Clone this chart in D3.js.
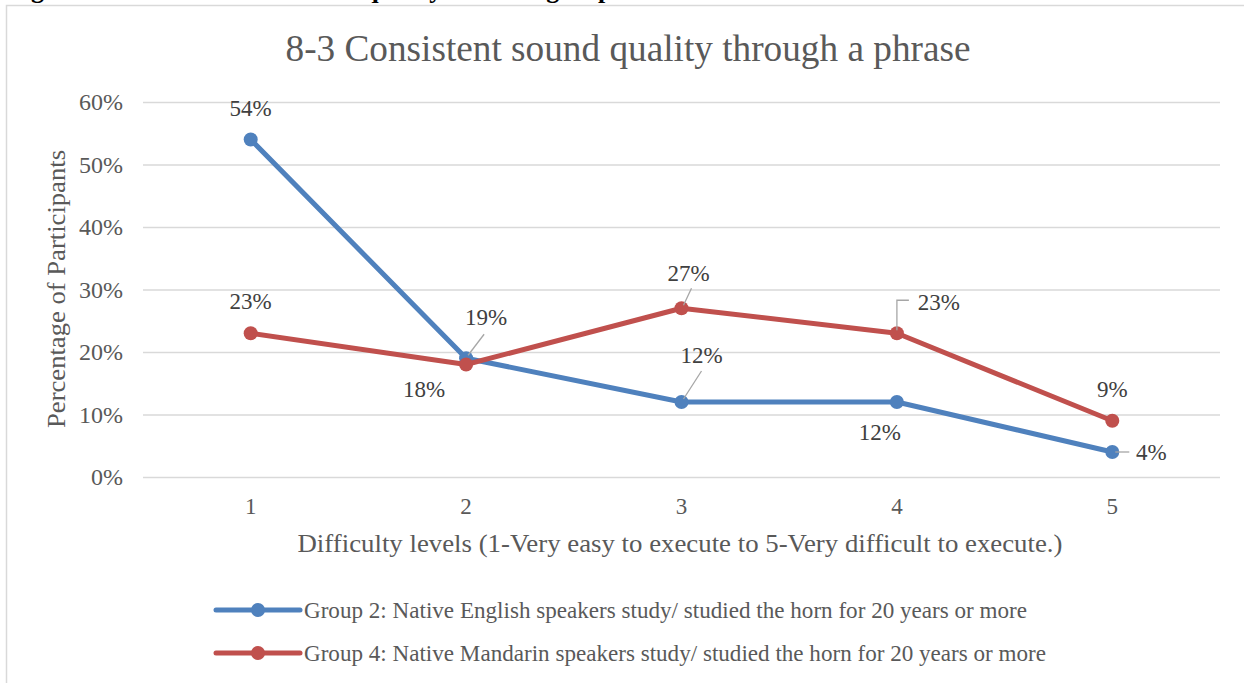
<!DOCTYPE html>
<html>
<head>
<meta charset="utf-8">
<script src="https://cdn.jsdelivr.net/npm/d3@7"></script>
<style>
  html, body { margin: 0; padding: 0; background: #fff; }
  svg { display: block; }
</style>
</head>
<body>
<svg id="chart" width="1244" height="683"></svg>
<script>
// ---- data ----
const categories = ["1", "2", "3", "4", "5"];
const group2Values = [0.54, 0.19, 0.12, 0.12, 0.04];
const group4Values = [0.23, 0.18, 0.27, 0.23, 0.09];
const yTickValues = [0, 0.1, 0.2, 0.3, 0.4, 0.5, 0.6];
const seriesNames = [
  "Group 2: Native English speakers study/ studied the horn for 20 years or more",
  "Group 4: Native Mandarin speakers study/ studied the horn for 20 years or more"
];
const chartTitle = "8-3 Consistent sound quality through a phrase";
const xAxisTitle = "Difficulty levels (1-Very easy to execute to 5-Very difficult to execute.)";
const yAxisTitle = "Percentage of Participants";
const captionText = "Figure 48. 8-3 Consistent sound quality between groups";

// ---- styling / layout ----
const W = 1244, H = 683;
const FONT = "'Liberation Serif', 'Times New Roman', serif";
const colors = ["#4f81bd", "#c0504d"];
const plot = { left: 143, right: 1220, top: 102, bottom: 477 };

// label placement per series/point: label centre offset and optional leader path (px, relative to point)
const labelLayout = [
  [
    { dx: 0, dy: -31 },
    { dx: 20, dy: -41, leader: [[2, -3], [18, -24]] },
    { dx: 20, dy: -47, leader: [[2, -3], [20, -31]] },
    { dx: -17, dy: 30 },
    { dx: 39, dy: 0, leader: [[3, 0], [17, 0]] }
  ],
  [
    { dx: 0, dy: -32 },
    { dx: -42, dy: 25 },
    { dx: 7, dy: -35, leader: [[2, -3], [10, -20]] },
    { dx: 42, dy: -31, leader: [[0, -3], [0, -33], [12, -33]] },
    { dx: 0, dy: -31 }
  ]
];

const svg = d3.select("#chart");

// stretch or squeeze a text run to a given width in px
function fitWidth(sel, width) {
  sel.attr("textLength", width).attr("lengthAdjust", "spacingAndGlyphs");
}

// caption line from the page above, cut by the top edge
svg.append("text")
  .attr("x", 8).attr("y", -2)
  .attr("font-family", FONT).attr("font-weight", "bold").attr("font-size", 26)
  .attr("fill", "#000")
  .text(captionText);

// chart frame (left and top edges visible)
svg.append("path")
  .attr("d", `M6.5,${H} L6.5,5.5 L${W},5.5`)
  .attr("fill", "none").attr("stroke", "#d9d9d9").attr("stroke-width", 1.5);

// scales
const x = d3.scaleBand().domain(categories).range([plot.left, plot.right]).paddingInner(0).paddingOuter(0);
const xc = d => x(d) + x.bandwidth() / 2;
const y = d3.scaleLinear().domain([0, 0.6]).range([plot.bottom, plot.top]);

// value axis with gridlines
const yAxis = d3.axisLeft(y).tickValues(yTickValues).tickSize(-(plot.right - plot.left)).tickFormat(d3.format(".0%"));
const gy = svg.append("g").attr("transform", `translate(${plot.left},0)`).call(yAxis);
gy.select(".domain").remove();
gy.selectAll(".tick line").attr("stroke", "#d9d9d9").attr("stroke-width", 1.5);
gy.selectAll(".tick text")
  .attr("font-family", FONT).attr("font-size", 24).attr("fill", "#595959")
  .attr("x", -20).attr("dy", "0.33em");

// category axis labels
const xAxis = d3.axisBottom(x).tickSize(0).tickPadding(0);
const gx = svg.append("g").attr("transform", `translate(0,${plot.bottom})`).call(xAxis);
gx.select(".domain").remove();
gx.selectAll(".tick text")
  .attr("font-family", FONT).attr("font-size", 23).attr("fill", "#595959")
  .attr("y", 29).attr("dy", "0.33em");

// title
svg.append("text")
  .attr("x", 628).attr("y", 61)
  .attr("text-anchor", "middle")
  .attr("font-family", FONT).attr("font-size", 37).attr("fill", "#595959")
  .text(chartTitle)
  .call(fitWidth, 685);

// axis titles
svg.append("text")
  .attr("x", 680).attr("y", 552)
  .attr("text-anchor", "middle")
  .attr("font-family", FONT).attr("font-size", 26).attr("fill", "#595959")
  .text(xAxisTitle)
  .call(fitWidth, 765);

svg.append("text")
  .attr("transform", `translate(65,289) rotate(-90)`)
  .attr("text-anchor", "middle")
  .attr("font-family", FONT).attr("font-size", 26).attr("fill", "#595959")
  .text(yAxisTitle)
  .call(fitWidth, 278);

// series lines and markers
const series = [group2Values, group4Values];
const line = d3.line().x((d, i) => xc(categories[i])).y(d => y(d));

series.forEach((vals, s) => {
  const g = svg.append("g");
  g.append("path")
    .datum(vals)
    .attr("d", line)
    .attr("fill", "none")
    .attr("stroke", colors[s])
    .attr("stroke-width", 5)
    .attr("stroke-linejoin", "round")
    .attr("stroke-linecap", "round");
  g.selectAll("circle")
    .data(vals)
    .join("circle")
    .attr("cx", (d, i) => xc(categories[i]))
    .attr("cy", d => y(d))
    .attr("r", 7)
    .attr("fill", colors[s]);
});

// data labels with leader lines
series.forEach((vals, s) => {
  vals.forEach((v, i) => {
    const px = xc(categories[i]), py = y(v);
    const lay = labelLayout[s][i];
    if (lay.leader) {
      svg.append("path")
        .attr("d", d3.line()(lay.leader.map(p => [px + p[0], py + p[1]])))
        .attr("fill", "none").attr("stroke", "#a6a6a6").attr("stroke-width", 1.3);
    }
    svg.append("text")
      .attr("x", px + lay.dx).attr("y", py + lay.dy)
      .attr("dy", "0.33em")
      .attr("text-anchor", "middle")
      .attr("font-family", FONT).attr("font-size", 23).attr("fill", "#404040")
      .text(d3.format(".0%")(v));
  });
});

// legend
const legend = svg.append("g");
const legendRows = [610, 653];
const legendWidths = [723, 742];
seriesNames.forEach((name, s) => {
  const ly = legendRows[s];
  legend.append("line")
    .attr("x1", 216).attr("x2", 300).attr("y1", ly).attr("y2", ly)
    .attr("stroke", colors[s]).attr("stroke-width", 5).attr("stroke-linecap", "round");
  legend.append("circle").attr("cx", 258).attr("cy", ly).attr("r", 7).attr("fill", colors[s]);
  legend.append("text")
    .attr("x", 304).attr("y", ly).attr("dy", "0.33em")
    .attr("font-family", FONT).attr("font-size", 23).attr("fill", "#595959")
    .text(name)
    .call(fitWidth, legendWidths[s]);
});
</script>
</body>
</html>
